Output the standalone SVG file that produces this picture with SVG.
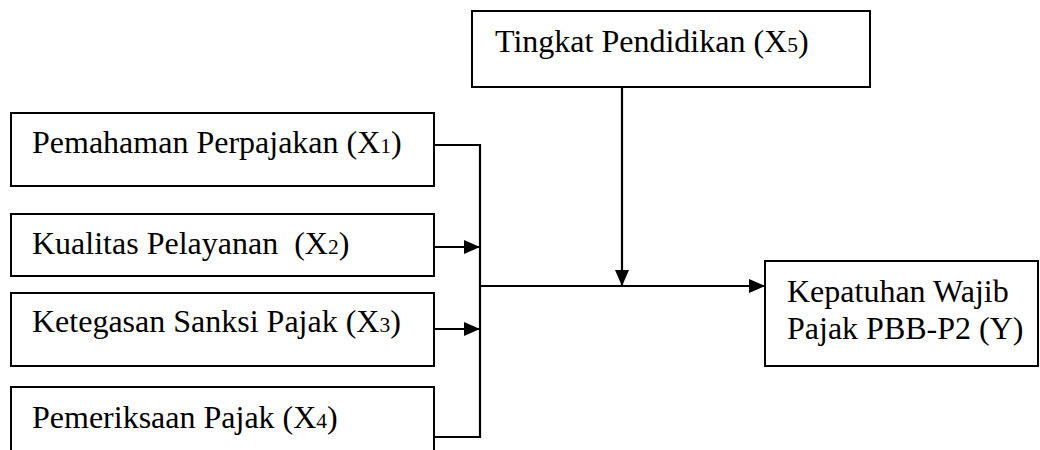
<svg xmlns="http://www.w3.org/2000/svg" width="1040" height="450" viewBox="0 0 1040 450">
<style>
.box{fill:#fff;stroke:#000;stroke-width:2}
.lbl{font-family:"Liberation Serif","Times New Roman",serif;font-size:32px;fill:#000;white-space:pre}
.sub{font-size:21.5px}
.con{fill:none;stroke:#000;stroke-width:2.2}
</style>
<defs>
<marker id="ah" markerUnits="userSpaceOnUse" markerWidth="16" markerHeight="14" refX="16" refY="7" orient="auto">
<path d="M0,0 L16,7 L0,14 Z" fill="#000"/>
</marker>
</defs>
<rect width="1040" height="450" fill="#fff"/>
<g id="connectors">
<path class="con" d="M434,145 H480 V437 H434"/>
<line class="con" x1="434" y1="247" x2="480" y2="247" marker-end="url(#ah)"/>
<line class="con" x1="434" y1="329" x2="480" y2="329" marker-end="url(#ah)"/>
<line class="con" x1="480" y1="286" x2="765" y2="286" marker-end="url(#ah)"/>
<line class="con" x1="622" y1="87" x2="622" y2="286" marker-end="url(#ah)"/>
</g>
<g id="x1">
<rect class="box" x="11" y="113" width="423" height="73"/>
<text class="lbl" x="32" y="153">Pemahaman Perpajakan (X<tspan class="sub">1</tspan>)</text>
</g>
<g id="x2">
<rect class="box" x="11" y="214" width="423" height="62"/>
<text class="lbl" x="32" y="254" xml:space="preserve">Kualitas Pelayanan  (X<tspan class="sub">2</tspan>)</text>
</g>
<g id="x3">
<rect class="box" x="11" y="293" width="423" height="73"/>
<text class="lbl" x="32" y="332">Ketegasan Sanksi Pajak (X<tspan class="sub">3</tspan>)</text>
</g>
<g id="x4">
<rect class="box" x="11" y="387" width="423" height="80"/>
<text class="lbl" x="32" y="428">Pemeriksaan Pajak (X<tspan class="sub">4</tspan>)</text>
</g>
<g id="x5">
<rect class="box" x="472" y="11" width="398" height="76"/>
<text class="lbl" x="495" y="52">Tingkat Pendidikan (X<tspan class="sub">5</tspan>)</text>
</g>
<g id="y">
<rect class="box" x="765" y="261" width="273" height="105"/>
<text class="lbl" x="787" y="302">Kepatuhan Wajib</text>
<text class="lbl" x="787" y="339">Pajak PBB-P2 (Y)</text>
</g>
</svg>
